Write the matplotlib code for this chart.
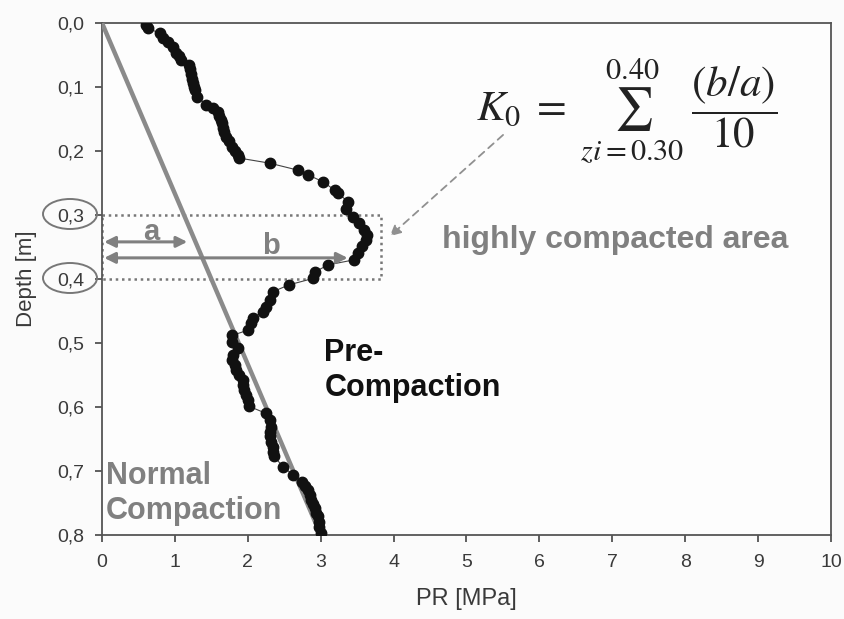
import matplotlib
matplotlib.use("Agg")
import matplotlib.pyplot as plt
from matplotlib.patches import Ellipse, Rectangle

plt.rcParams['font.family'] = ['Liberation Sans', 'DejaVu Sans']
plt.rcParams['mathtext.fontset'] = 'stix'

# penetration resistance profile
depth = [0.003, 0.008, 0.016, 0.023, 0.029, 0.037, 0.047, 0.052, 0.058, 0.066,
         0.072, 0.079, 0.087, 0.094, 0.100, 0.105, 0.115, 0.128, 0.133, 0.139,
         0.145, 0.151, 0.157, 0.164, 0.171, 0.178, 0.185, 0.193, 0.200, 0.206,
         0.211, 0.219, 0.230, 0.237, 0.248, 0.261, 0.266, 0.279, 0.290, 0.303,
         0.313, 0.323, 0.331, 0.339, 0.349, 0.360, 0.370, 0.378, 0.389, 0.399,
         0.409, 0.420, 0.433, 0.443, 0.451, 0.461, 0.469, 0.480, 0.488, 0.498,
         0.508, 0.518, 0.527, 0.535, 0.542, 0.550, 0.558, 0.566, 0.573, 0.581,
         0.589, 0.599, 0.610, 0.620, 0.631, 0.639, 0.646, 0.654, 0.662, 0.670,
         0.677, 0.693, 0.706, 0.717, 0.724, 0.730, 0.738, 0.745, 0.752, 0.758,
         0.765, 0.771, 0.779, 0.787, 0.797]
pr = [0.61, 0.63, 0.79, 0.83, 0.90, 0.97, 1.02, 1.05, 1.09, 1.20,
      1.21, 1.22, 1.23, 1.25, 1.26, 1.27, 1.31, 1.43, 1.52, 1.59,
      1.61, 1.63, 1.64, 1.66, 1.68, 1.70, 1.74, 1.79, 1.83, 1.86,
      1.88, 2.30, 2.69, 2.82, 3.03, 3.19, 3.24, 3.37, 3.35, 3.44,
      3.53, 3.60, 3.63, 3.62, 3.56, 3.51, 3.46, 3.10, 2.92, 2.90,
      2.57, 2.34, 2.30, 2.25, 2.21, 2.07, 2.05, 2.00, 1.79, 1.79,
      1.86, 1.80, 1.79, 1.82, 1.84, 1.88, 1.93, 1.94, 1.95, 1.97,
      2.00, 2.02, 2.25, 2.30, 2.32, 2.31, 2.30, 2.32, 2.34, 2.35,
      2.36, 2.48, 2.62, 2.75, 2.78, 2.82, 2.85, 2.87, 2.90, 2.92,
      2.94, 2.96, 2.97, 2.98, 3.00]

# normal compaction trend line
normal_pr = [0.0, 3.0]
normal_depth = [0.0, 0.8]

xticks = [0, 1, 2, 3, 4, 5, 6, 7, 8, 9, 10]
yticks = [0.0, 0.1, 0.2, 0.3, 0.4, 0.5, 0.6, 0.7, 0.8]
ytick_labels = ['0,0', '0,1', '0,2', '0,3', '0,4', '0,5', '0,6', '0,7', '0,8']

fig = plt.figure(figsize=(8.44, 6.19), dpi=100, facecolor='#fbfbfb')
ax = fig.add_axes([102 / 844, 1 - 535 / 619, 729 / 844, 512 / 619])
ax.set_facecolor('#fdfdfd')

ax.plot(normal_pr, normal_depth, color='#8a8a8a', lw=3.2, zorder=3, solid_capstyle='butt')
ax.plot(pr, depth, color='#444444', lw=0.8, marker='o', ms=7.5,
        mfc='#111111', mec='#111111', zorder=4)

ax.set_xlim(0, 10)
ax.set_ylim(0.8, 0.0)
ax.set_xticks(xticks)
ax.set_yticks(yticks)
ax.set_yticklabels(ytick_labels)
ax.tick_params(direction='out', length=5, width=1.2, colors='#444444',
               labelsize=14, labelcolor='#3a3a3a')
ax.tick_params(axis='x', pad=9)
ax.tick_params(axis='y', pad=8)
for s in ax.spines.values():
    s.set_color('#555555')
    s.set_linewidth(1.3)

ax.set_xlabel('PR [MPa]', fontsize=17, color='#3a3a3a', labelpad=12)
ax.set_ylabel('Depth [m]', fontsize=16, color='#3a3a3a', labelpad=14)

# highly compacted zone
ax.add_patch(Rectangle((0, 0.3), 3.83, 0.1, fill=False, ls=(0, (1, 1.5)),
                       lw=1.8, ec='#777777', zorder=2))
ax.annotate('', xy=(0.03, 0.342), xytext=(1.17, 0.342),
            arrowprops=dict(arrowstyle='<|-|>', color='#808080', lw=2.2,
                            mutation_scale=16, shrinkA=0, shrinkB=0), zorder=5)
ax.annotate('', xy=(0.03, 0.367), xytext=(3.37, 0.367),
            arrowprops=dict(arrowstyle='<|-|>', color='#808080', lw=2.2,
                            mutation_scale=16, shrinkA=0, shrinkB=0), zorder=5)
ax.text(0.67, 0.326, 'a', fontsize=21, fontweight='bold', color='#808080',
        ha='center', va='center')
ax.text(2.32, 0.349, 'b', fontsize=21, fontweight='bold', color='#808080',
        ha='center', va='center')

ax.annotate('', xy=(3.92, 0.336), xytext=(5.53, 0.172),
            arrowprops=dict(arrowstyle='-|>', color='#909090', lw=1.3,
                            ls=(0, (4, 3)), mutation_scale=16))

ax.text(7.2, 0.138, r'$K_0\;=\;\sum_{zi=0.30}^{0.40}\;\dfrac{\left(b/a\right)}{10}$',
        fontsize=31, color='#222222', ha='center', va='center')

ax.text(4.67, 0.339, 'highly compacted area', fontsize=23, fontweight='bold',
        color='#808080', va='center')
ax.text(3.05, 0.543, 'Pre-\nCompaction', fontsize=22, fontweight='bold',
        color='#111111', va='center', linespacing=1.2)
ax.text(0.05, 0.735, 'Normal\nCompaction', fontsize=22, fontweight='bold',
        color='#808080', va='center', linespacing=1.2)

# circles around the 0,3 and 0,4 tick labels
for cy in (214, 278):
    fig.patches.append(Ellipse((70 / 844, 1 - cy / 619), 54 / 844, 30 / 619,
                               transform=fig.transFigure, fill=False,
                               ec='#777777', lw=1.4))

fig.savefig('out.png', dpi=100, facecolor=fig.get_facecolor())
